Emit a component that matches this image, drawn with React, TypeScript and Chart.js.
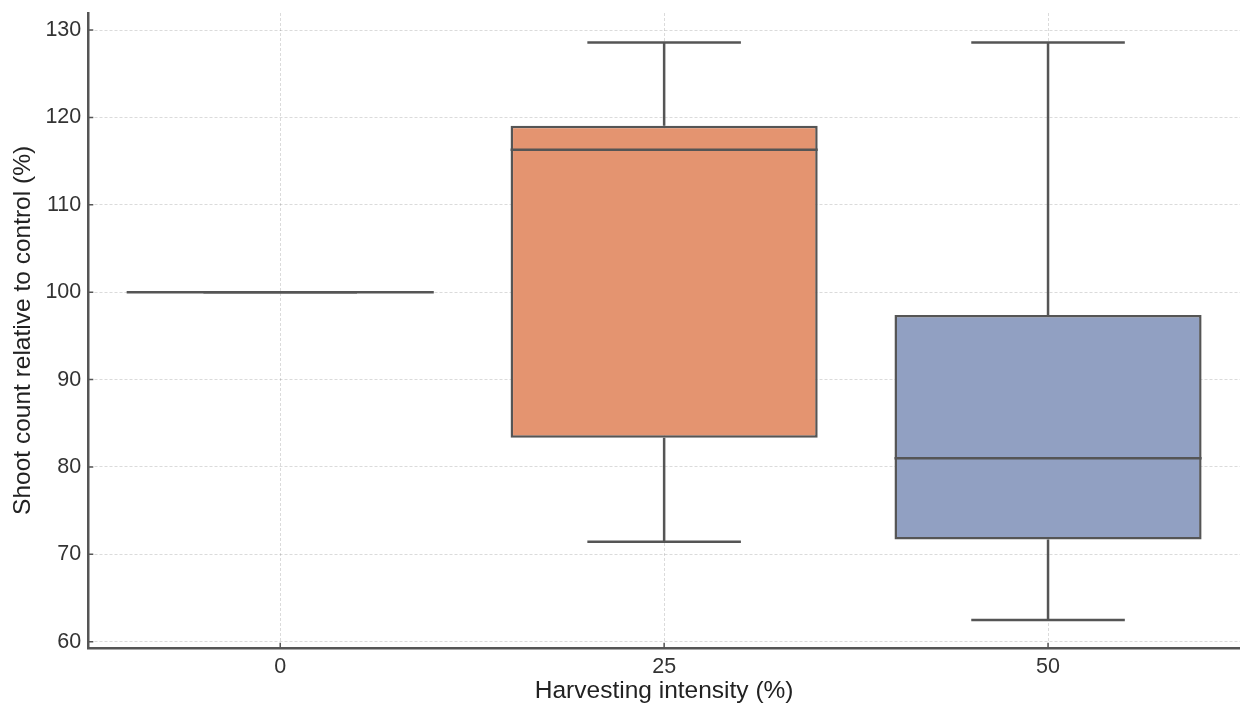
import React, { useEffect, useRef } from "react";
import { Chart, registerables } from "chart.js";

Chart.register(...registerables);

const categories = ["0", "25", "50"];
const whiskerLow = [100, 71.43, 62.5];
const q1Values = [100, 83.33, 71.7];
const medianValues = [100, 116.3, 81.0];
const q3Values = [100, 119.05, 97.4];
const whiskerHigh = [100, 128.57, 128.57];
const boxColors = ["rgb(102,194,165)", "rgb(228,148,112)", "rgb(145,160,194)"];

const LINE = "#555555";
const FONT = "'Liberation Sans', Arial, sans-serif";

const boxPlugin = {
  id: "boxWhiskers",
  afterDraw(chart: any) {
    const meta = chart.getDatasetMeta(0);
    const x = chart.scales.x;
    const y = chart.scales.y;
    const area = chart.chartArea;
    const ctx = chart.ctx;
    ctx.save();
    ctx.strokeStyle = LINE;
    ctx.lineWidth = 2.5;
    ctx.lineCap = "butt";
    categories.forEach((_, i) => {
      const bar = meta.data[i];
      if (!bar) return;
      const cx = bar.x;
      const w = bar.width;
      const yMin = y.getPixelForValue(whiskerLow[i]);
      const yQ1 = y.getPixelForValue(q1Values[i]);
      const yMed = y.getPixelForValue(medianValues[i]);
      const yQ3 = y.getPixelForValue(q3Values[i]);
      const yMax = y.getPixelForValue(whiskerHigh[i]);
      ctx.beginPath();
      ctx.moveTo(cx, yQ3);
      ctx.lineTo(cx, yMax);
      ctx.moveTo(cx, yQ1);
      ctx.lineTo(cx, yMin);
      ctx.moveTo(cx - w / 4, yMax);
      ctx.lineTo(cx + w / 4, yMax);
      ctx.moveTo(cx - w / 4, yMin);
      ctx.lineTo(cx + w / 4, yMin);
      ctx.stroke();
      ctx.beginPath();
      ctx.moveTo(cx - w / 2, yMed);
      ctx.lineTo(cx + w / 2, yMed);
      ctx.stroke();
    });
    ctx.lineWidth = 1.5;
    ctx.beginPath();
    y.ticks.forEach((t: any) => {
      const py = y.getPixelForValue(t.value);
      ctx.moveTo(area.left, py);
      ctx.lineTo(area.left + 5, py);
    });
    x.ticks.forEach((_t: any, i: number) => {
      const px = x.getPixelForValue(i);
      ctx.moveTo(px, area.bottom);
      ctx.lineTo(px, area.bottom - 5);
    });
    ctx.stroke();
    ctx.restore();
  },
};

export default function App() {
  const ref = useRef<HTMLCanvasElement>(null);
  useEffect(() => {
    if (!ref.current) return;
    const chart = new Chart(ref.current, {
      type: "bar",
      data: {
        labels: categories,
        datasets: [
          {
            data: categories.map((_, i) => [q1Values[i], q3Values[i]]) as any,
            backgroundColor: boxColors,
            borderColor: LINE,
            borderWidth: 2.5,
            borderSkipped: false,
            barPercentage: 0.8,
            categoryPercentage: 1,
          },
        ],
      },
      options: {
        animation: false,
        responsive: true,
        maintainAspectRatio: false,
        layout: { padding: { top: 13, right: 0, left: 0, bottom: 1 } },
        plugins: { legend: { display: false }, tooltip: { enabled: false } },
        scales: {
          x: {
            offset: true,
            z: 1,
            grid: {
              offset: false,
              color: "rgba(0,0,0,0.14)",
              drawTicks: false,
              lineWidth: 1,
            },
            border: { color: LINE, width: 2.5, dash: [3, 2] },
            ticks: { color: "#333", font: { family: FONT, size: 21.5, lineHeight: 1.1 }, padding: 7 },
            title: {
              display: true,
              text: "Harvesting intensity (%)",
              color: "#222",
              font: { family: FONT, size: 24.5, lineHeight: 1.0 },
              padding: { top: -7, bottom: 0 },
            },
          },
          y: {
            min: 59.3,
            max: 131.95,
            z: 1,
            afterFit: (scale: any) => {
              scale.paddingTop = 0;
              scale.paddingBottom = 0;
            },
            grid: {
              color: "rgba(0,0,0,0.14)",
              drawTicks: false,
              lineWidth: 1,
            },
            border: { color: LINE, width: 2.5, dash: [3, 2] },
            ticks: {
              stepSize: 10,
              includeBounds: false,
              color: "#333",
              font: { family: FONT, size: 21.5 },
              padding: 7,
            },
            title: {
              display: true,
              text: "Shoot count relative to control (%)",
              color: "#222",
              font: { family: FONT, size: 24.5 },
              padding: { top: 9, bottom: 0 },
            },
          },
        },
      },
      plugins: [boxPlugin],
    });
    return () => chart.destroy();
  }, []);
  return (
    <div style={{ position: "fixed", left: 0, top: 0, width: 1240, height: 704, background: "#fff" }}>
      <canvas ref={ref} />
    </div>
  );
}
